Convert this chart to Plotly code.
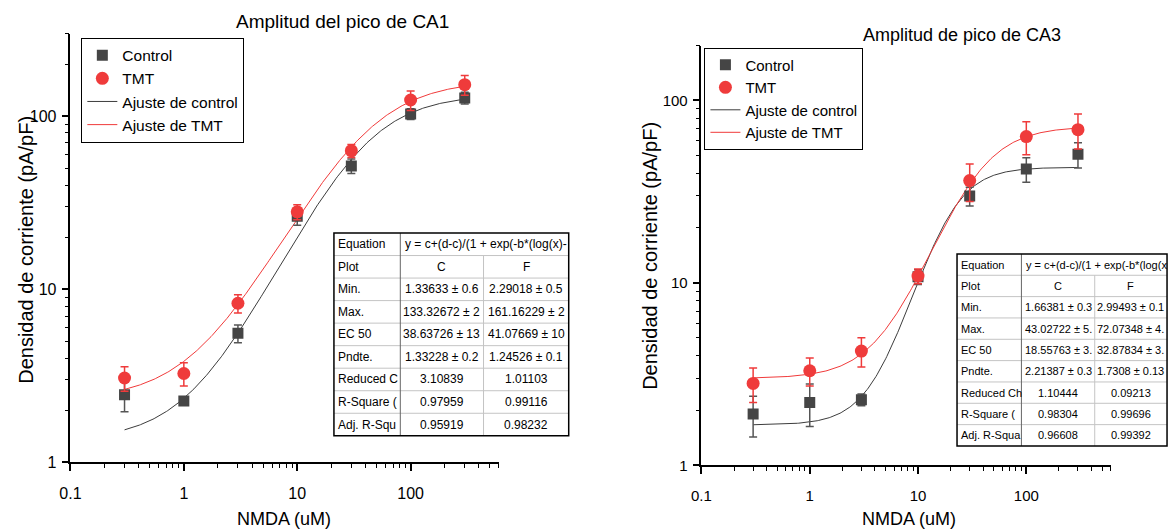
import numpy as np
import plotly.graph_objects as go

# ---------------- data ----------------
nmda = [0.3, 1, 3, 10, 30, 100, 300]

ca1_control = [2.46, 2.26, 5.56, 26.4, 51.6, 103, 127.4]
ca1_control_err = [0.5, 0.12, 0.65, 3.0, 5.0, 7.3, 10]
ca1_tmt = [3.07, 3.26, 8.3, 28.0, 63.2, 124, 152]
ca1_tmt_err = [0.5, 0.5, 1.0, 2.8, 5.5, 16, 20]

ca3_control = [1.91, 2.21, 2.29, 10.8, 29.9, 42.1, 50.7]
ca3_control_err = [0.48, 0.58, 0.17, 1.0, 3.5, 6.5, 8]
ca3_tmt = [2.81, 3.30, 4.23, 10.9, 36.4, 63.4, 69.2]
ca3_tmt_err = [0.6, 0.58, 0.77, 1.0, 8.5, 13, 15]

# fit parameters (from the tables): [Control, TMT]
ca1_min = [1.33633, 2.29018]
ca1_max = [133.32672, 161.16229]
ca1_ec50 = [38.63726, 41.07669]
ca1_slope = [1.33228, 1.24526]
ca3_min = [1.66381, 2.99493]
ca3_max = [43.02722, 72.07348]
ca3_ec50 = [18.55763, 32.87834]
ca3_slope = [2.21387, 1.7308]

row_labels_ca1 = ["Equation", "Plot", "Min.", "Max.", "EC 50", "Pndte.", "Reduced C", "R-Square (", "Adj. R-Squ"]
col_c_ca1 = ["", "C", "1.33633 ± 0.6", "133.32672 ± 2", "38.63726 ± 13", "1.33228 ± 0.2", "3.10839", "0.97959", "0.95919"]
col_f_ca1 = ["", "F", "2.29018 ± 0.5", "161.16229 ± 2", "41.07669 ± 10", "1.24526 ± 0.1", "1.01103", "0.99116", "0.98232"]
eq_ca1 = "y = c+(d-c)/(1 + exp(-b*(log(x)-"

row_labels_ca3 = ["Equation", "Plot", "Min.", "Max.", "EC 50", "Pndte.", "Reduced Ch", "R-Square (", "Adj. R-Squa"]
col_c_ca3 = ["", "C", "1.66381 ± 0.3", "43.02722 ± 5.", "18.55763 ± 3.", "2.21387 ± 0.3", "1.10444", "0.98304", "0.96608"]
col_f_ca3 = ["", "F", "2.99493 ± 0.1", "72.07348 ± 4.", "32.87834 ± 3.", "1.7308 ± 0.13", "0.09213", "0.99696", "0.99392"]
eq_ca3 = "y = c+(d-c)/(1 + exp(-b*(log(x"

x_ticks = [0.1, 1, 10, 100]
x_ticktext = ["0.1", "1", "10", "100"]
y_ticks = [1, 10, 100]
y_ticktext = ["1", "10", "100"]

# ---------------- style ----------------
W, H = 1171, 531
FONT = "Liberation Sans, Arial, sans-serif"
C_CTRL = "#454545"
C_TMT = "#ef3b3b"
C_CTRL_LINE = "#3c3c3c"
C_TMT_LINE = "#f03a3a"

# calibration of target-pixel -> layout-pixel
XA, XS = 7.0, 1.0
YA, YS = -0.7, 0.986


def X(px):
    return ((px - XA) / XS) / W


def Y(py):
    return 1 - ((py - YA) / YS) / H


def fit(x, c, d, ec50, b):
    x = np.asarray(x, dtype=float)
    return c + (d - c) / (1 + np.exp(-b * (np.log(x) - np.log(ec50))))


xfit = np.logspace(np.log10(0.3), np.log10(300), 300)

fig = go.Figure()


def add_panel(xa, ya, leg, ctrl, ctrl_err, tmt, tmt_err, pmin, pmax, pec, pslope):
    fig.add_trace(go.Scatter(x=xfit, y=fit(xfit, pmin[0], pmax[0], pec[0], pslope[0]),
                             mode="lines", line=dict(color=C_CTRL_LINE, width=1),
                             name="Ajuste de control", legendrank=3, legend=leg,
                             xaxis=xa, yaxis=ya))
    fig.add_trace(go.Scatter(x=xfit, y=fit(xfit, pmin[1], pmax[1], pec[1], pslope[1]),
                             mode="lines", line=dict(color=C_TMT_LINE, width=1),
                             name="Ajuste de TMT", legendrank=4, legend=leg,
                             xaxis=xa, yaxis=ya))
    fig.add_trace(go.Scatter(x=nmda, y=ctrl, mode="markers",
                             marker=dict(symbol="square", size=11, color=C_CTRL),
                             error_y=dict(type="data", array=ctrl_err, color="#555555",
                                          thickness=1.5, width=4),
                             name="Control", legendrank=1, legend=leg,
                             xaxis=xa, yaxis=ya))
    fig.add_trace(go.Scatter(x=nmda, y=tmt, mode="markers",
                             marker=dict(symbol="circle", size=13, color=C_TMT),
                             error_y=dict(type="data", array=tmt_err, color=C_TMT,
                                          thickness=1.5, width=4),
                             name="TMT", legendrank=2, legend=leg,
                             xaxis=xa, yaxis=ya))


add_panel("x", "y", "legend", ca1_control, ca1_control_err, ca1_tmt, ca1_tmt_err,
          ca1_min, ca1_max, ca1_ec50, ca1_slope)
add_panel("x2", "y2", "legend2", ca3_control, ca3_control_err, ca3_tmt, ca3_tmt_err,
          ca3_min, ca3_max, ca3_ec50, ca3_slope)

minor_x = [m * 10.0 ** e for e in (-1, 0, 1) for m in range(2, 10)] + [200, 300, 400, 500, 600]
minor_y1 = [m * 10.0 ** e for e in (0, 1) for m in range(2, 10)] + [200, 300]
minor_y2 = [m * 10.0 ** e for e in (0, 1) for m in range(2, 10)] + [200]


def axis_common(fs):
    return dict(showline=True, linecolor="black", linewidth=1.5, mirror=False,
                ticks="outside", ticklen=7, tickwidth=1.5, tickcolor="black",
                showgrid=False, zeroline=False, type="log",
                tickfont=dict(family=FONT, size=fs, color="black"))


def xaxis(domain, anchor, minor_vals, fs):
    return dict(axis_common(fs), domain=domain, anchor=anchor, range=[-1, np.log10(600)],
                tickmode="array", tickvals=x_ticks, ticktext=x_ticktext,
                ticklabelstandoff=9,
                minor=dict(tickmode="array", tickvals=minor_vals, ticks="outside",
                           ticklen=4, tickwidth=1.2, tickcolor="black", showgrid=False))


def yaxis(domain, anchor, top, minor_vals, fs):
    return dict(axis_common(fs), domain=domain, anchor=anchor, range=[0, np.log10(top)],
                tickmode="array", tickvals=y_ticks, ticktext=y_ticktext,
                ticklabelstandoff=2,
                minor=dict(tickmode="array", tickvals=minor_vals, ticks="outside",
                           ticklen=4, tickwidth=1.2, tickcolor="black", showgrid=False))


def legend_common(fs):
    return dict(bgcolor="white", bordercolor="black", borderwidth=1,
                font=dict(family=FONT, size=fs, color="black"),
                xanchor="left", yanchor="top", tracegroupgap=0,
                itemsizing="trace", itemwidth=30)


fig.update_layout(
    width=W, height=H, autosize=False,
    margin=dict(l=0, r=0, t=0, b=0),
    paper_bgcolor="white", plot_bgcolor="white",
    showlegend=True,
    xaxis=xaxis([X(67), X(499.5)], "y", minor_x, 16),
    yaxis=yaxis([Y(463), Y(33)], "x", 300, minor_y1, 16),
    xaxis2=xaxis([X(704), X(1117)], "y2", minor_x, 15),
    yaxis2=yaxis([Y(466), Y(45)], "x2", 200, minor_y2, 15),
    legend=dict(legend_common(15.5), x=X(78), y=Y(37)),
    legend2=dict(legend_common(15), x=X(707), y=Y(47)),
)

annotations = []
shapes = []


def text(px, py, s, size, angle=0, xanchor="center"):
    annotations.append(dict(x=X(px), y=Y(py), xref="paper", yref="paper", text=s,
                            showarrow=False, textangle=angle, xanchor=xanchor,
                            yanchor="middle",
                            font=dict(family=FONT, size=size, color="black")))


# titles and axis titles
text(342, 21, "Amplitud del pico de CA1", 19)
text(967, 34, "Amplitud de pico de CA3", 18)
text(283, 520, "NMDA (uM)", 18)
text(914, 520, "NMDA (uM)", 18)
text(22, 250, "Densidad de corriente (pA/pF)", 20, angle=-90)
text(652, 256, "Densidad de corriente (pA/pF)", 20, angle=-90)


def table(cols, top, row_h, labels, cc, cf, eq, size):
    left, c1, c2, right = cols
    n = len(labels)
    bottom = top + n * row_h
    shapes.append(dict(type="rect", xref="paper", yref="paper",
                       x0=X(left), x1=X(right), y0=Y(bottom), y1=Y(top),
                       fillcolor="white", line=dict(width=0), layer="above"))
    for i in range(1, n):
        yy = Y(top + i * row_h)
        shapes.append(dict(type="line", xref="paper", yref="paper",
                           x0=X(left), x1=X(right), y0=yy, y1=yy,
                           line=dict(color="#c4c4c4", width=1), layer="above"))
    shapes.append(dict(type="line", xref="paper", yref="paper",
                       x0=X(c1), x1=X(c1), y0=Y(bottom), y1=Y(top),
                       line=dict(color="#666666", width=1), layer="above"))
    shapes.append(dict(type="line", xref="paper", yref="paper",
                       x0=X(c2), x1=X(c2), y0=Y(bottom), y1=Y(top + row_h),
                       line=dict(color="#c4c4c4", width=1), layer="above"))
    shapes.append(dict(type="rect", xref="paper", yref="paper",
                       x0=X(left), x1=min(X(right), 0.999), y0=Y(bottom), y1=Y(top),
                       fillcolor="rgba(0,0,0,0)", line=dict(color="black", width=1.5),
                       layer="above"))
    for i in range(n):
        yc = top + (i + 0.5) * row_h
        text(left + 2, yc, labels[i], size, xanchor="left")
        if i == 0:
            text(c1 + 3, yc, eq, size, xanchor="left")
        else:
            text((c1 + c2) / 2, yc, cc[i], size)
            text((c2 + right) / 2, yc, cf[i], size)


table([333, 400, 484, 570], 233, 22.6, row_labels_ca1, col_c_ca1, col_f_ca1, eq_ca1, 12)
table([962, 1027, 1101, 1174], 254, 21.4, row_labels_ca3, col_c_ca3, col_f_ca3, eq_ca3, 11)

fig.update_layout(annotations=annotations, shapes=shapes)

fig.write_html("out.html", config={"displayModeBar": False},
               post_script="document.body.style.margin='0px';document.body.style.overflow='hidden';")
